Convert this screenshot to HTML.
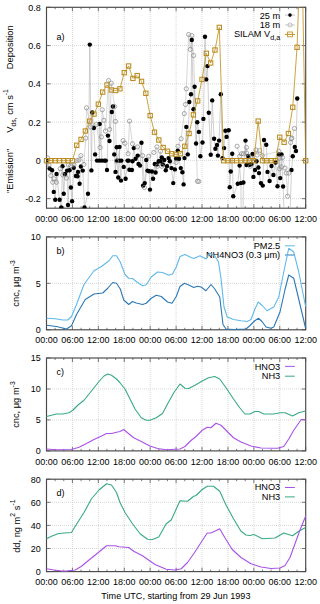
<!DOCTYPE html>
<html><head><meta charset="utf-8"><style>
html,body{margin:0;padding:0;background:#fff;width:320px;height:604px;overflow:hidden}
svg{display:block}
text{font-family:"Liberation Sans", sans-serif;font-size:9px;fill:#000}
</style></head><body>
<svg width="320" height="604" viewBox="0 0 320 604">
<path d="M72.42 7.30V208.20" stroke="#cdcdcd" stroke-width="0.8" stroke-dasharray="1 1" stroke-dashoffset="1.30" fill="none"/>
<path d="M98.34 7.30V208.20" stroke="#cdcdcd" stroke-width="0.8" stroke-dasharray="1 1" stroke-dashoffset="1.30" fill="none"/>
<path d="M124.26 7.30V208.20" stroke="#cdcdcd" stroke-width="0.8" stroke-dasharray="1 1" stroke-dashoffset="1.30" fill="none"/>
<path d="M150.18 7.30V208.20" stroke="#cdcdcd" stroke-width="0.8" stroke-dasharray="1 1" stroke-dashoffset="1.30" fill="none"/>
<path d="M176.10 7.30V208.20" stroke="#cdcdcd" stroke-width="0.8" stroke-dasharray="1 1" stroke-dashoffset="1.30" fill="none"/>
<path d="M202.02 7.30V208.20" stroke="#cdcdcd" stroke-width="0.8" stroke-dasharray="1 1" stroke-dashoffset="1.30" fill="none"/>
<path d="M227.94 7.30V208.20" stroke="#cdcdcd" stroke-width="0.8" stroke-dasharray="1 1" stroke-dashoffset="1.30" fill="none"/>
<path d="M253.86 7.30V208.20" stroke="#cdcdcd" stroke-width="0.8" stroke-dasharray="1 1" stroke-dashoffset="1.30" fill="none"/>
<path d="M279.78 7.30V208.20" stroke="#cdcdcd" stroke-width="0.8" stroke-dasharray="1 1" stroke-dashoffset="1.30" fill="none"/>
<path d="M46.50 198.63H305.70" stroke="#cdcdcd" stroke-width="0.8" stroke-dasharray="1 1" stroke-dashoffset="0.50" fill="none"/>
<path d="M46.50 160.37H305.70" stroke="#cdcdcd" stroke-width="0.8" stroke-dasharray="1 1" stroke-dashoffset="0.50" fill="none"/>
<path d="M46.50 122.10H305.70" stroke="#cdcdcd" stroke-width="0.8" stroke-dasharray="1 1" stroke-dashoffset="0.50" fill="none"/>
<path d="M46.50 83.83H305.70" stroke="#cdcdcd" stroke-width="0.8" stroke-dasharray="1 1" stroke-dashoffset="0.50" fill="none"/>
<path d="M46.50 45.57H305.70" stroke="#cdcdcd" stroke-width="0.8" stroke-dasharray="1 1" stroke-dashoffset="0.50" fill="none"/>
<path d="M46.50 208.20v-4M46.50 7.30v4 M55.14 208.20v-2M55.14 7.30v2 M63.78 208.20v-2M63.78 7.30v2 M72.42 208.20v-4M72.42 7.30v4 M81.06 208.20v-2M81.06 7.30v2 M89.70 208.20v-2M89.70 7.30v2 M98.34 208.20v-4M98.34 7.30v4 M106.98 208.20v-2M106.98 7.30v2 M115.62 208.20v-2M115.62 7.30v2 M124.26 208.20v-4M124.26 7.30v4 M132.90 208.20v-2M132.90 7.30v2 M141.54 208.20v-2M141.54 7.30v2 M150.18 208.20v-4M150.18 7.30v4 M158.82 208.20v-2M158.82 7.30v2 M167.46 208.20v-2M167.46 7.30v2 M176.10 208.20v-4M176.10 7.30v4 M184.74 208.20v-2M184.74 7.30v2 M193.38 208.20v-2M193.38 7.30v2 M202.02 208.20v-4M202.02 7.30v4 M210.66 208.20v-2M210.66 7.30v2 M219.30 208.20v-2M219.30 7.30v2 M227.94 208.20v-4M227.94 7.30v4 M236.58 208.20v-2M236.58 7.30v2 M245.22 208.20v-2M245.22 7.30v2 M253.86 208.20v-4M253.86 7.30v4 M262.50 208.20v-2M262.50 7.30v2 M271.14 208.20v-2M271.14 7.30v2 M279.78 208.20v-4M279.78 7.30v4 M288.42 208.20v-2M288.42 7.30v2 M297.06 208.20v-2M297.06 7.30v2 M305.70 208.20v-4M305.70 7.30v4 M46.50 198.63h4M305.70 198.63h-4 M46.50 160.37h4M305.70 160.37h-4 M46.50 122.10h4M305.70 122.10h-4 M46.50 83.83h4M305.70 83.83h-4 M46.50 45.57h4M305.70 45.57h-4 M46.50 7.30h4M305.70 7.30h-4" stroke="#444" stroke-width="0.7" fill="none"/>
<rect x="46.50" y="7.30" width="259.20" height="200.90" fill="none" stroke="#484848" stroke-width="1.15"/>
<text transform="translate(46.50,221.80) scale(1,1.06)" text-anchor="middle">00:00</text>
<text transform="translate(72.42,221.80) scale(1,1.06)" text-anchor="middle">06:00</text>
<text transform="translate(98.34,221.80) scale(1,1.06)" text-anchor="middle">12:00</text>
<text transform="translate(124.26,221.80) scale(1,1.06)" text-anchor="middle">18:00</text>
<text transform="translate(150.18,221.80) scale(1,1.06)" text-anchor="middle">00:00</text>
<text transform="translate(176.10,221.80) scale(1,1.06)" text-anchor="middle">06:00</text>
<text transform="translate(202.02,221.80) scale(1,1.06)" text-anchor="middle">12:00</text>
<text transform="translate(227.94,221.80) scale(1,1.06)" text-anchor="middle">18:00</text>
<text transform="translate(253.86,221.80) scale(1,1.06)" text-anchor="middle">00:00</text>
<text transform="translate(279.78,221.80) scale(1,1.06)" text-anchor="middle">06:00</text>
<text transform="translate(305.70,221.80) scale(1,1.06)" text-anchor="middle">12:00</text>
<text transform="translate(40.8,202.03) scale(1,1.06)" text-anchor="end">-0.2</text>
<text transform="translate(40.8,163.77) scale(1,1.06)" text-anchor="end">0</text>
<text transform="translate(40.8,125.50) scale(1,1.06)" text-anchor="end">0.2</text>
<text transform="translate(40.8,87.23) scale(1,1.06)" text-anchor="end">0.4</text>
<text transform="translate(40.8,48.97) scale(1,1.06)" text-anchor="end">0.6</text>
<text transform="translate(40.8,10.70) scale(1,1.06)" text-anchor="end">0.8</text>
<path d="M72.42 236.90V329.80" stroke="#cdcdcd" stroke-width="0.8" stroke-dasharray="1 1" stroke-dashoffset="0.90" fill="none"/>
<path d="M98.34 236.90V329.80" stroke="#cdcdcd" stroke-width="0.8" stroke-dasharray="1 1" stroke-dashoffset="0.90" fill="none"/>
<path d="M124.26 236.90V329.80" stroke="#cdcdcd" stroke-width="0.8" stroke-dasharray="1 1" stroke-dashoffset="0.90" fill="none"/>
<path d="M150.18 236.90V329.80" stroke="#cdcdcd" stroke-width="0.8" stroke-dasharray="1 1" stroke-dashoffset="0.90" fill="none"/>
<path d="M176.10 236.90V329.80" stroke="#cdcdcd" stroke-width="0.8" stroke-dasharray="1 1" stroke-dashoffset="0.90" fill="none"/>
<path d="M202.02 236.90V329.80" stroke="#cdcdcd" stroke-width="0.8" stroke-dasharray="1 1" stroke-dashoffset="0.90" fill="none"/>
<path d="M227.94 236.90V329.80" stroke="#cdcdcd" stroke-width="0.8" stroke-dasharray="1 1" stroke-dashoffset="0.90" fill="none"/>
<path d="M253.86 236.90V329.80" stroke="#cdcdcd" stroke-width="0.8" stroke-dasharray="1 1" stroke-dashoffset="0.90" fill="none"/>
<path d="M279.78 236.90V329.80" stroke="#cdcdcd" stroke-width="0.8" stroke-dasharray="1 1" stroke-dashoffset="0.90" fill="none"/>
<path d="M46.50 283.35H305.70" stroke="#cdcdcd" stroke-width="0.8" stroke-dasharray="1 1" stroke-dashoffset="0.50" fill="none"/>
<path d="M46.50 329.80v-4M46.50 236.90v4 M55.14 329.80v-2M55.14 236.90v2 M63.78 329.80v-2M63.78 236.90v2 M72.42 329.80v-4M72.42 236.90v4 M81.06 329.80v-2M81.06 236.90v2 M89.70 329.80v-2M89.70 236.90v2 M98.34 329.80v-4M98.34 236.90v4 M106.98 329.80v-2M106.98 236.90v2 M115.62 329.80v-2M115.62 236.90v2 M124.26 329.80v-4M124.26 236.90v4 M132.90 329.80v-2M132.90 236.90v2 M141.54 329.80v-2M141.54 236.90v2 M150.18 329.80v-4M150.18 236.90v4 M158.82 329.80v-2M158.82 236.90v2 M167.46 329.80v-2M167.46 236.90v2 M176.10 329.80v-4M176.10 236.90v4 M184.74 329.80v-2M184.74 236.90v2 M193.38 329.80v-2M193.38 236.90v2 M202.02 329.80v-4M202.02 236.90v4 M210.66 329.80v-2M210.66 236.90v2 M219.30 329.80v-2M219.30 236.90v2 M227.94 329.80v-4M227.94 236.90v4 M236.58 329.80v-2M236.58 236.90v2 M245.22 329.80v-2M245.22 236.90v2 M253.86 329.80v-4M253.86 236.90v4 M262.50 329.80v-2M262.50 236.90v2 M271.14 329.80v-2M271.14 236.90v2 M279.78 329.80v-4M279.78 236.90v4 M288.42 329.80v-2M288.42 236.90v2 M297.06 329.80v-2M297.06 236.90v2 M305.70 329.80v-4M305.70 236.90v4 M46.50 329.80h4M305.70 329.80h-4 M46.50 283.35h4M305.70 283.35h-4 M46.50 236.90h4M305.70 236.90h-4" stroke="#444" stroke-width="0.7" fill="none"/>
<rect x="46.50" y="236.90" width="259.20" height="92.90" fill="none" stroke="#484848" stroke-width="1.15"/>
<text transform="translate(46.50,343.40) scale(1,1.06)" text-anchor="middle">00:00</text>
<text transform="translate(72.42,343.40) scale(1,1.06)" text-anchor="middle">06:00</text>
<text transform="translate(98.34,343.40) scale(1,1.06)" text-anchor="middle">12:00</text>
<text transform="translate(124.26,343.40) scale(1,1.06)" text-anchor="middle">18:00</text>
<text transform="translate(150.18,343.40) scale(1,1.06)" text-anchor="middle">00:00</text>
<text transform="translate(176.10,343.40) scale(1,1.06)" text-anchor="middle">06:00</text>
<text transform="translate(202.02,343.40) scale(1,1.06)" text-anchor="middle">12:00</text>
<text transform="translate(227.94,343.40) scale(1,1.06)" text-anchor="middle">18:00</text>
<text transform="translate(253.86,343.40) scale(1,1.06)" text-anchor="middle">00:00</text>
<text transform="translate(279.78,343.40) scale(1,1.06)" text-anchor="middle">06:00</text>
<text transform="translate(305.70,343.40) scale(1,1.06)" text-anchor="middle">12:00</text>
<text transform="translate(40.8,333.20) scale(1,1.06)" text-anchor="end">0</text>
<text transform="translate(40.8,286.75) scale(1,1.06)" text-anchor="end">5</text>
<text transform="translate(40.8,240.30) scale(1,1.06)" text-anchor="end">10</text>
<path d="M72.42 358.00V450.90" stroke="#cdcdcd" stroke-width="0.8" stroke-dasharray="1 1" stroke-dashoffset="0.00" fill="none"/>
<path d="M98.34 358.00V450.90" stroke="#cdcdcd" stroke-width="0.8" stroke-dasharray="1 1" stroke-dashoffset="0.00" fill="none"/>
<path d="M124.26 358.00V450.90" stroke="#cdcdcd" stroke-width="0.8" stroke-dasharray="1 1" stroke-dashoffset="0.00" fill="none"/>
<path d="M150.18 358.00V450.90" stroke="#cdcdcd" stroke-width="0.8" stroke-dasharray="1 1" stroke-dashoffset="0.00" fill="none"/>
<path d="M176.10 358.00V450.90" stroke="#cdcdcd" stroke-width="0.8" stroke-dasharray="1 1" stroke-dashoffset="0.00" fill="none"/>
<path d="M202.02 358.00V450.90" stroke="#cdcdcd" stroke-width="0.8" stroke-dasharray="1 1" stroke-dashoffset="0.00" fill="none"/>
<path d="M227.94 358.00V450.90" stroke="#cdcdcd" stroke-width="0.8" stroke-dasharray="1 1" stroke-dashoffset="0.00" fill="none"/>
<path d="M253.86 358.00V450.90" stroke="#cdcdcd" stroke-width="0.8" stroke-dasharray="1 1" stroke-dashoffset="0.00" fill="none"/>
<path d="M279.78 358.00V450.90" stroke="#cdcdcd" stroke-width="0.8" stroke-dasharray="1 1" stroke-dashoffset="0.00" fill="none"/>
<path d="M46.50 419.93H305.70" stroke="#cdcdcd" stroke-width="0.8" stroke-dasharray="1 1" stroke-dashoffset="0.50" fill="none"/>
<path d="M46.50 388.97H305.70" stroke="#cdcdcd" stroke-width="0.8" stroke-dasharray="1 1" stroke-dashoffset="0.50" fill="none"/>
<path d="M46.50 450.90v-4M46.50 358.00v4 M55.14 450.90v-2M55.14 358.00v2 M63.78 450.90v-2M63.78 358.00v2 M72.42 450.90v-4M72.42 358.00v4 M81.06 450.90v-2M81.06 358.00v2 M89.70 450.90v-2M89.70 358.00v2 M98.34 450.90v-4M98.34 358.00v4 M106.98 450.90v-2M106.98 358.00v2 M115.62 450.90v-2M115.62 358.00v2 M124.26 450.90v-4M124.26 358.00v4 M132.90 450.90v-2M132.90 358.00v2 M141.54 450.90v-2M141.54 358.00v2 M150.18 450.90v-4M150.18 358.00v4 M158.82 450.90v-2M158.82 358.00v2 M167.46 450.90v-2M167.46 358.00v2 M176.10 450.90v-4M176.10 358.00v4 M184.74 450.90v-2M184.74 358.00v2 M193.38 450.90v-2M193.38 358.00v2 M202.02 450.90v-4M202.02 358.00v4 M210.66 450.90v-2M210.66 358.00v2 M219.30 450.90v-2M219.30 358.00v2 M227.94 450.90v-4M227.94 358.00v4 M236.58 450.90v-2M236.58 358.00v2 M245.22 450.90v-2M245.22 358.00v2 M253.86 450.90v-4M253.86 358.00v4 M262.50 450.90v-2M262.50 358.00v2 M271.14 450.90v-2M271.14 358.00v2 M279.78 450.90v-4M279.78 358.00v4 M288.42 450.90v-2M288.42 358.00v2 M297.06 450.90v-2M297.06 358.00v2 M305.70 450.90v-4M305.70 358.00v4 M46.50 450.90h4M305.70 450.90h-4 M46.50 419.93h4M305.70 419.93h-4 M46.50 388.97h4M305.70 388.97h-4 M46.50 358.00h4M305.70 358.00h-4" stroke="#444" stroke-width="0.7" fill="none"/>
<rect x="46.50" y="358.00" width="259.20" height="92.90" fill="none" stroke="#484848" stroke-width="1.15"/>
<text transform="translate(46.50,464.50) scale(1,1.06)" text-anchor="middle">00:00</text>
<text transform="translate(72.42,464.50) scale(1,1.06)" text-anchor="middle">06:00</text>
<text transform="translate(98.34,464.50) scale(1,1.06)" text-anchor="middle">12:00</text>
<text transform="translate(124.26,464.50) scale(1,1.06)" text-anchor="middle">18:00</text>
<text transform="translate(150.18,464.50) scale(1,1.06)" text-anchor="middle">00:00</text>
<text transform="translate(176.10,464.50) scale(1,1.06)" text-anchor="middle">06:00</text>
<text transform="translate(202.02,464.50) scale(1,1.06)" text-anchor="middle">12:00</text>
<text transform="translate(227.94,464.50) scale(1,1.06)" text-anchor="middle">18:00</text>
<text transform="translate(253.86,464.50) scale(1,1.06)" text-anchor="middle">00:00</text>
<text transform="translate(279.78,464.50) scale(1,1.06)" text-anchor="middle">06:00</text>
<text transform="translate(305.70,464.50) scale(1,1.06)" text-anchor="middle">12:00</text>
<text transform="translate(40.8,454.30) scale(1,1.06)" text-anchor="end">0</text>
<text transform="translate(40.8,423.33) scale(1,1.06)" text-anchor="end">5</text>
<text transform="translate(40.8,392.37) scale(1,1.06)" text-anchor="end">10</text>
<text transform="translate(40.8,361.40) scale(1,1.06)" text-anchor="end">15</text>
<path d="M72.42 479.20V571.60" stroke="#cdcdcd" stroke-width="0.8" stroke-dasharray="1 1" stroke-dashoffset="1.20" fill="none"/>
<path d="M98.34 479.20V571.60" stroke="#cdcdcd" stroke-width="0.8" stroke-dasharray="1 1" stroke-dashoffset="1.20" fill="none"/>
<path d="M124.26 479.20V571.60" stroke="#cdcdcd" stroke-width="0.8" stroke-dasharray="1 1" stroke-dashoffset="1.20" fill="none"/>
<path d="M150.18 479.20V571.60" stroke="#cdcdcd" stroke-width="0.8" stroke-dasharray="1 1" stroke-dashoffset="1.20" fill="none"/>
<path d="M176.10 479.20V571.60" stroke="#cdcdcd" stroke-width="0.8" stroke-dasharray="1 1" stroke-dashoffset="1.20" fill="none"/>
<path d="M202.02 479.20V571.60" stroke="#cdcdcd" stroke-width="0.8" stroke-dasharray="1 1" stroke-dashoffset="1.20" fill="none"/>
<path d="M227.94 479.20V571.60" stroke="#cdcdcd" stroke-width="0.8" stroke-dasharray="1 1" stroke-dashoffset="1.20" fill="none"/>
<path d="M253.86 479.20V571.60" stroke="#cdcdcd" stroke-width="0.8" stroke-dasharray="1 1" stroke-dashoffset="1.20" fill="none"/>
<path d="M279.78 479.20V571.60" stroke="#cdcdcd" stroke-width="0.8" stroke-dasharray="1 1" stroke-dashoffset="1.20" fill="none"/>
<path d="M46.50 548.50H305.70" stroke="#cdcdcd" stroke-width="0.8" stroke-dasharray="1 1" stroke-dashoffset="0.50" fill="none"/>
<path d="M46.50 525.40H305.70" stroke="#cdcdcd" stroke-width="0.8" stroke-dasharray="1 1" stroke-dashoffset="0.50" fill="none"/>
<path d="M46.50 502.30H305.70" stroke="#cdcdcd" stroke-width="0.8" stroke-dasharray="1 1" stroke-dashoffset="0.50" fill="none"/>
<path d="M46.50 571.60v-4M46.50 479.20v4 M55.14 571.60v-2M55.14 479.20v2 M63.78 571.60v-2M63.78 479.20v2 M72.42 571.60v-4M72.42 479.20v4 M81.06 571.60v-2M81.06 479.20v2 M89.70 571.60v-2M89.70 479.20v2 M98.34 571.60v-4M98.34 479.20v4 M106.98 571.60v-2M106.98 479.20v2 M115.62 571.60v-2M115.62 479.20v2 M124.26 571.60v-4M124.26 479.20v4 M132.90 571.60v-2M132.90 479.20v2 M141.54 571.60v-2M141.54 479.20v2 M150.18 571.60v-4M150.18 479.20v4 M158.82 571.60v-2M158.82 479.20v2 M167.46 571.60v-2M167.46 479.20v2 M176.10 571.60v-4M176.10 479.20v4 M184.74 571.60v-2M184.74 479.20v2 M193.38 571.60v-2M193.38 479.20v2 M202.02 571.60v-4M202.02 479.20v4 M210.66 571.60v-2M210.66 479.20v2 M219.30 571.60v-2M219.30 479.20v2 M227.94 571.60v-4M227.94 479.20v4 M236.58 571.60v-2M236.58 479.20v2 M245.22 571.60v-2M245.22 479.20v2 M253.86 571.60v-4M253.86 479.20v4 M262.50 571.60v-2M262.50 479.20v2 M271.14 571.60v-2M271.14 479.20v2 M279.78 571.60v-4M279.78 479.20v4 M288.42 571.60v-2M288.42 479.20v2 M297.06 571.60v-2M297.06 479.20v2 M305.70 571.60v-4M305.70 479.20v4 M46.50 571.60h4M305.70 571.60h-4 M46.50 548.50h4M305.70 548.50h-4 M46.50 525.40h4M305.70 525.40h-4 M46.50 502.30h4M305.70 502.30h-4 M46.50 479.20h4M305.70 479.20h-4" stroke="#444" stroke-width="0.7" fill="none"/>
<rect x="46.50" y="479.20" width="259.20" height="92.40" fill="none" stroke="#484848" stroke-width="1.15"/>
<text transform="translate(46.50,585.20) scale(1,1.06)" text-anchor="middle">00:00</text>
<text transform="translate(72.42,585.20) scale(1,1.06)" text-anchor="middle">06:00</text>
<text transform="translate(98.34,585.20) scale(1,1.06)" text-anchor="middle">12:00</text>
<text transform="translate(124.26,585.20) scale(1,1.06)" text-anchor="middle">18:00</text>
<text transform="translate(150.18,585.20) scale(1,1.06)" text-anchor="middle">00:00</text>
<text transform="translate(176.10,585.20) scale(1,1.06)" text-anchor="middle">06:00</text>
<text transform="translate(202.02,585.20) scale(1,1.06)" text-anchor="middle">12:00</text>
<text transform="translate(227.94,585.20) scale(1,1.06)" text-anchor="middle">18:00</text>
<text transform="translate(253.86,585.20) scale(1,1.06)" text-anchor="middle">00:00</text>
<text transform="translate(279.78,585.20) scale(1,1.06)" text-anchor="middle">06:00</text>
<text transform="translate(305.70,585.20) scale(1,1.06)" text-anchor="middle">12:00</text>
<text transform="translate(40.8,575.00) scale(1,1.06)" text-anchor="end">0</text>
<text transform="translate(40.8,551.90) scale(1,1.06)" text-anchor="end">20</text>
<text transform="translate(40.8,528.80) scale(1,1.06)" text-anchor="end">40</text>
<text transform="translate(40.8,505.70) scale(1,1.06)" text-anchor="end">60</text>
<text transform="translate(40.8,482.60) scale(1,1.06)" text-anchor="end">80</text>
<text transform="translate(56.6,40.2) scale(1,1.06)">a)</text>
<text transform="translate(56.6,254.0) scale(1,1.06)">b)</text>
<text transform="translate(56.6,375.1) scale(1,1.06)">c)</text>
<text transform="translate(56.6,496.3) scale(1,1.06)">d)</text>
<text transform="translate(13.0,47.25) rotate(-90)" text-anchor="middle" style="font-size:9.3px">Deposition</text>
<text transform="translate(13.3,110.9) rotate(-90)" text-anchor="middle" style="font-size:9.3px">V<tspan dy="2.3" font-size="6.8">ds,</tspan><tspan dy="-2.3"> cm s</tspan><tspan dy="-4.9" font-size="6.8">-1</tspan></text>
<text transform="translate(13.3,170.9) rotate(-90)" text-anchor="middle" style="font-size:9.3px">"Emission"</text>
<text transform="translate(19.4,283.4) rotate(-90)" text-anchor="middle" style="font-size:9.3px">cnc, μg m<tspan dy="-4.6" font-size="6.8">-3</tspan></text>
<text transform="translate(19.4,404.6) rotate(-90)" text-anchor="middle" style="font-size:9.3px">cnc, μg m<tspan dy="-4.6" font-size="6.8">-3</tspan></text>
<text transform="translate(19.5,526.2) rotate(-90)" text-anchor="middle" style="font-size:9.3px">dd, ng m<tspan dy="-4.6" font-size="6.8">2</tspan><tspan dy="4.6"> s</tspan><tspan dy="-4.6" font-size="6.8">-1</tspan></text>
<text transform="translate(175.9,598.8) scale(1,1.06)" text-anchor="middle" style="font-size:9.1px">Time UTC, starting from 29 Jun 1993</text>
<text x="280.2" y="249.0" text-anchor="end" style="font-size:9.2px">PM2.5</text>
<text x="280.2" y="258.2" text-anchor="end" style="font-size:9.2px">NH4NO3 (0.3 μm)</text>
<path d="M285 245.80H294.8" stroke="#5fb9ea" stroke-width="1"/>
<path d="M285 255.00H294.8" stroke="#2a78b6" stroke-width="1"/>
<text x="280.2" y="369.9" text-anchor="end" style="font-size:9.2px">HNO3</text>
<text x="280.2" y="379.1" text-anchor="end" style="font-size:9.2px">NH3</text>
<path d="M285 366.40H294.8" stroke="#aa52e8" stroke-width="1"/>
<path d="M285 376.20H294.8" stroke="#38a986" stroke-width="1"/>
<text x="280.2" y="490.3" text-anchor="end" style="font-size:9.2px">HNO3</text>
<text x="280.2" y="499.5" text-anchor="end" style="font-size:9.2px">NH3</text>
<path d="M285 487.50H294.8" stroke="#aa52e8" stroke-width="1"/>
<path d="M285 496.90H294.8" stroke="#38a986" stroke-width="1"/>
<polyline points="46.50,318.25 55.25,318.75 62.75,320.00 67.75,320.00 71.50,316.50 76.50,304.50 84.00,284.50 94.00,270.75 101.50,266.50 109.00,260.75 112.75,255.75 116.50,255.75 120.25,262.00 125.00,274.50 128.75,278.25 132.50,278.50 137.50,282.50 142.50,285.70 146.25,284.80 151.25,277.00 157.50,272.00 162.50,272.50 168.75,275.25 172.50,274.00 176.25,267.00 180.00,256.50 185.00,254.50 190.00,257.00 193.75,258.50 200.00,255.75 206.00,259.00 209.75,253.25 214.75,255.75 218.50,262.00 221.00,278.25 224.00,307.00 227.25,317.00 233.50,319.50 241.00,320.75 247.25,321.50 251.00,319.50 254.75,309.50 258.25,302.00 262.50,305.75 267.00,310.75 273.75,307.00 278.75,297.00 283.75,272.00 288.75,248.25 293.75,252.00 298.75,272.00 305.60,306.50" fill="none" stroke="#5fb9ea" stroke-width="1.1" stroke-linejoin="round"/>
<polyline points="46.50,325.25 56.50,326.50 66.50,329.00 71.50,325.75 76.50,314.50 85.25,299.50 94.00,294.00 102.75,293.00 107.75,288.25 112.75,282.50 116.50,283.25 120.25,289.00 123.75,300.00 128.75,304.50 132.50,301.50 136.25,303.00 142.50,304.50 146.25,303.25 151.25,298.25 156.25,295.25 161.25,296.50 167.50,302.00 172.00,303.25 176.25,296.50 180.00,286.50 184.50,283.25 188.75,285.00 193.75,287.50 197.50,286.25 201.00,287.00 206.00,290.75 211.00,284.50 214.75,289.00 219.75,297.00 223.00,324.50 226.00,329.00 233.50,329.50 246.00,329.00 249.75,325.75 254.75,320.75 258.50,318.25 262.00,321.50 266.00,327.00 271.00,328.25 273.75,327.00 280.00,312.00 285.00,289.50 288.75,275.00 293.75,278.25 300.00,304.50 305.60,328.25" fill="none" stroke="#2a78b6" stroke-width="1.1" stroke-linejoin="round"/>
<polyline points="46.50,416.50 51.50,415.25 56.50,414.00 62.75,414.00 69.00,412.75 72.75,410.25 77.75,405.25 84.00,400.25 89.00,394.00 94.00,387.75 99.00,381.50 104.00,376.00 107.75,374.00 111.50,375.25 116.50,379.00 120.00,382.75 125.00,389.00 130.00,399.00 135.00,409.00 141.25,417.75 146.25,420.25 150.00,420.25 156.25,417.75 162.50,413.50 167.50,404.00 173.75,392.75 180.00,384.00 185.00,388.25 188.75,388.50 195.00,385.25 202.25,381.00 208.50,377.75 214.75,376.50 219.75,379.00 226.00,387.75 233.50,399.00 239.75,407.75 245.00,414.00 250.00,414.00 255.00,411.50 258.75,411.50 263.75,414.00 273.75,414.00 280.00,412.75 285.00,412.75 292.50,416.00 298.75,412.75 305.60,411.00" fill="none" stroke="#38a986" stroke-width="1.1" stroke-linejoin="round"/>
<polyline points="46.50,449.00 56.50,449.75 71.50,449.50 79.00,447.25 86.50,443.50 94.00,439.50 101.50,436.00 106.50,433.50 111.50,433.50 116.50,432.25 120.00,431.50 123.75,429.50 127.50,432.75 133.75,437.75 141.25,441.50 150.00,446.00 157.50,448.50 166.25,449.75 180.00,449.00 185.00,446.50 191.25,440.25 196.00,436.50 202.25,430.25 207.25,427.25 211.00,427.75 216.00,423.25 221.00,425.25 227.25,431.50 233.50,437.75 241.00,442.00 251.00,446.00 261.00,448.00 277.50,448.25 283.75,446.50 288.75,439.00 293.75,430.25 301.25,419.50 305.60,419.50" fill="none" stroke="#aa52e8" stroke-width="1.1" stroke-linejoin="round"/>
<polyline points="46.50,538.75 51.50,536.25 57.75,533.75 64.00,533.00 71.50,532.50 75.25,526.25 84.00,512.50 91.50,498.75 99.00,490.00 106.50,483.75 111.50,485.00 116.50,492.50 120.00,502.50 125.00,512.50 132.50,523.75 140.00,533.75 147.50,539.25 152.50,539.50 158.75,537.00 166.25,523.75 171.25,520.00 180.00,500.75 187.50,501.25 193.75,496.25 196.00,495.50 202.25,489.50 207.25,486.25 213.50,486.25 219.75,491.25 226.00,505.00 233.50,518.75 241.00,531.25 246.00,535.00 249.75,535.50 254.00,534.50 262.25,538.75 275.00,538.00 283.75,533.00 292.50,535.75 298.75,531.25 305.60,527.50" fill="none" stroke="#38a986" stroke-width="1.1" stroke-linejoin="round"/>
<polyline points="46.50,568.75 54.00,570.00 64.00,571.25 75.25,570.00 81.50,566.25 89.00,560.00 97.75,553.00 106.50,545.75 115.25,545.75 119.00,546.75 128.75,547.50 133.75,551.25 142.50,555.75 155.00,564.50 166.25,569.25 175.00,570.00 181.25,568.75 187.50,562.50 193.75,553.75 201.00,542.50 207.25,533.00 211.00,533.00 219.75,528.75 224.75,537.50 232.25,549.50 241.00,557.50 251.00,563.75 261.00,567.00 271.00,568.50 280.00,568.00 285.00,565.50 290.00,557.50 295.00,543.75 300.00,530.00 305.60,516.25" fill="none" stroke="#aa52e8" stroke-width="1.1" stroke-linejoin="round"/>
<defs><clipPath id="ca"><rect x="46.5" y="7.3" width="259.2" height="200.9"/></clipPath></defs>
<g clip-path="url(#ca)">
<polyline points="46.50,160.60 49.60,168.50 52.10,170.25 53.75,191.90 55.25,199.75 56.50,174.00 59.60,199.75 61.25,207.50 62.50,166.25 63.75,193.75 65.00,174.00 67.10,170.60 68.00,205.00 69.60,170.25 70.90,187.50 72.10,201.25 73.75,167.75 75.90,176.00 77.50,176.25 78.00,171.90 79.60,183.75 80.90,166.50 82.75,170.60 84.50,207.50 88.00,193.75 89.80,44.60 91.40,170.40 92.30,112.50 93.90,128.00 95.10,154.40 97.00,160.60 99.50,160.60 99.70,123.90 102.00,160.60 104.50,160.60 105.75,160.60 107.00,170.00 107.90,135.60 109.50,141.00 111.80,112.00 113.00,106.50 114.25,154.40 115.50,171.90 116.75,147.25 117.00,160.60 118.25,177.50 119.50,146.90 119.50,160.60 121.00,180.60 121.40,160.60 123.75,166.90 125.60,178.75 127.50,160.60 128.75,160.60 129.40,169.75 131.90,170.00 132.50,161.25 133.75,148.10 135.60,158.75 137.75,155.60 138.50,164.00 140.00,165.60 141.50,142.75 143.10,185.60 144.75,183.10 146.25,160.00 147.50,170.60 149.00,171.25 150.00,189.60 151.90,171.50 153.10,178.75 154.75,164.00 155.60,172.50 156.90,164.40 158.75,161.25 160.25,161.25 161.75,157.50 162.75,164.40 164.25,160.00 165.75,170.25 167.00,166.25 168.60,158.10 169.90,161.25 171.50,168.10 173.25,183.10 174.90,169.40 176.10,158.75 177.75,150.60 179.00,158.75 180.75,168.10 182.40,172.25 183.60,184.40 184.50,158.10 186.30,126.90 187.75,154.40 189.30,102.00 191.00,94.30 191.80,40.00 193.50,109.20 194.60,86.70 196.10,143.50 197.30,122.30 198.90,131.90 200.40,156.25 202.50,142.50 203.40,118.90 205.00,36.70 206.20,79.40 207.50,66.10 208.80,112.80 210.75,154.75 212.20,100.40 214.10,138.75 215.40,148.75 217.00,145.00 217.90,155.60 219.10,140.60 220.80,94.30 222.50,158.10 224.10,148.10 225.40,130.70 226.60,136.90 228.70,130.20 229.75,187.25 230.75,171.50 232.25,153.75 233.25,196.25 237.75,183.75 239.60,165.60 240.90,183.10 242.10,300.00 243.40,182.50 245.50,140.60 246.50,165.00 248.00,156.00 249.60,164.75 251.50,164.00 252.50,154.00 253.40,176.90 255.00,170.00 256.50,161.25 258.40,167.50 259.00,173.10 260.90,183.10 262.75,185.60 264.00,140.00 266.25,144.75 267.50,171.90 269.60,181.00 271.50,166.00 273.40,175.00 275.60,162.50 277.50,186.25 279.00,154.40 280.25,178.10 281.50,154.40 283.10,186.50 287.00,300.00 291.50,170.00 292.75,156.25 294.75,146.90 296.00,151.00 297.25,98.50" fill="none" stroke="#ababab" stroke-width="0.55" stroke-linejoin="round"/>
<polyline points="47.75,158.10 49.00,165.00 50.90,175.60 52.75,182.25 54.00,178.75 56.50,182.25 60.25,168.75 62.75,175.00 66.50,178.10 68.40,165.00 70.90,165.60 74.00,165.00 77.10,160.60 79.00,160.00 80.90,155.60 83.90,164.40 85.75,138.10 86.50,107.80 90.60,126.90 96.40,124.40 100.10,147.50 101.40,136.90 102.20,109.80 103.90,120.30 105.50,131.00 108.50,80.50 109.70,129.40 111.30,83.30 114.60,106.50 115.50,121.40 116.50,161.00 123.10,140.60 124.90,143.30 128.10,153.75 129.50,121.10 132.50,143.75 137.50,146.90 142.50,155.60 144.40,187.50 148.75,156.25 153.75,152.50 156.90,146.90 157.50,166.25 160.50,151.25 161.75,166.25 176.10,162.50 178.00,146.25 181.10,138.75 184.30,113.60 185.50,104.50 186.30,88.80 188.60,34.50 190.30,49.40 191.90,35.60 193.60,55.50 197.40,181.25 198.75,181.50" fill="none" stroke="#b8b8b8" stroke-width="0.55" stroke-linejoin="round"/>
<polyline points="237.10,146.25 239.75,156.25 241.50,153.75 243.50,153.75 246.50,147.50 246.60,153.10 248.50,156.90 250.25,166.25 252.00,158.00 255.90,150.00 257.10,155.00 259.60,150.60 262.25,155.60 278.75,151.25 279.40,158.10 279.40,168.75 281.25,166.90 282.50,157.50 285.00,168.10 286.25,173.10 287.50,196.25 288.75,173.10 290.60,142.50 291.25,138.75 291.90,138.10 294.40,128.50" fill="none" stroke="#b8b8b8" stroke-width="0.55" stroke-linejoin="round"/>
<g fill="#000"><circle cx="46.50" cy="160.60" r="2.2"/><circle cx="49.60" cy="168.50" r="2.2"/><circle cx="52.10" cy="170.25" r="2.2"/><circle cx="53.75" cy="191.90" r="2.2"/><circle cx="55.25" cy="199.75" r="2.2"/><circle cx="56.50" cy="174.00" r="2.2"/><circle cx="59.60" cy="199.75" r="2.2"/><circle cx="61.25" cy="207.50" r="2.2"/><circle cx="62.50" cy="166.25" r="2.2"/><circle cx="63.75" cy="193.75" r="2.2"/><circle cx="65.00" cy="174.00" r="2.2"/><circle cx="67.10" cy="170.60" r="2.2"/><circle cx="68.00" cy="205.00" r="2.2"/><circle cx="69.60" cy="170.25" r="2.2"/><circle cx="70.90" cy="187.50" r="2.2"/><circle cx="72.10" cy="201.25" r="2.2"/><circle cx="73.75" cy="167.75" r="2.2"/><circle cx="75.90" cy="176.00" r="2.2"/><circle cx="77.50" cy="176.25" r="2.2"/><circle cx="78.00" cy="171.90" r="2.2"/><circle cx="79.60" cy="183.75" r="2.2"/><circle cx="80.90" cy="166.50" r="2.2"/><circle cx="82.75" cy="170.60" r="2.2"/><circle cx="84.50" cy="207.50" r="2.2"/><circle cx="88.00" cy="193.75" r="2.2"/><circle cx="89.80" cy="44.60" r="2.2"/><circle cx="91.40" cy="170.40" r="2.2"/><circle cx="92.30" cy="112.50" r="2.2"/><circle cx="93.90" cy="128.00" r="2.2"/><circle cx="95.10" cy="154.40" r="2.2"/><circle cx="97.00" cy="160.60" r="2.2"/><circle cx="99.50" cy="160.60" r="2.2"/><circle cx="99.70" cy="123.90" r="2.2"/><circle cx="102.00" cy="160.60" r="2.2"/><circle cx="104.50" cy="160.60" r="2.2"/><circle cx="105.75" cy="160.60" r="2.2"/><circle cx="107.00" cy="170.00" r="2.2"/><circle cx="107.90" cy="135.60" r="2.2"/><circle cx="109.50" cy="141.00" r="2.2"/><circle cx="111.80" cy="112.00" r="2.2"/><circle cx="113.00" cy="106.50" r="2.2"/><circle cx="114.25" cy="154.40" r="2.2"/><circle cx="115.50" cy="171.90" r="2.2"/><circle cx="116.75" cy="147.25" r="2.2"/><circle cx="117.00" cy="160.60" r="2.2"/><circle cx="118.25" cy="177.50" r="2.2"/><circle cx="119.50" cy="146.90" r="2.2"/><circle cx="119.50" cy="160.60" r="2.2"/><circle cx="121.00" cy="180.60" r="2.2"/><circle cx="121.40" cy="160.60" r="2.2"/><circle cx="123.75" cy="166.90" r="2.2"/><circle cx="125.60" cy="178.75" r="2.2"/><circle cx="127.50" cy="160.60" r="2.2"/><circle cx="128.75" cy="160.60" r="2.2"/><circle cx="129.40" cy="169.75" r="2.2"/><circle cx="131.90" cy="170.00" r="2.2"/><circle cx="132.50" cy="161.25" r="2.2"/><circle cx="133.75" cy="148.10" r="2.2"/><circle cx="135.60" cy="158.75" r="2.2"/><circle cx="137.75" cy="155.60" r="2.2"/><circle cx="138.50" cy="164.00" r="2.2"/><circle cx="140.00" cy="165.60" r="2.2"/><circle cx="141.50" cy="142.75" r="2.2"/><circle cx="143.10" cy="185.60" r="2.2"/><circle cx="144.75" cy="183.10" r="2.2"/><circle cx="146.25" cy="160.00" r="2.2"/><circle cx="147.50" cy="170.60" r="2.2"/><circle cx="149.00" cy="171.25" r="2.2"/><circle cx="150.00" cy="189.60" r="2.2"/><circle cx="151.90" cy="171.50" r="2.2"/><circle cx="153.10" cy="178.75" r="2.2"/><circle cx="154.75" cy="164.00" r="2.2"/><circle cx="155.60" cy="172.50" r="2.2"/><circle cx="156.90" cy="164.40" r="2.2"/><circle cx="158.75" cy="161.25" r="2.2"/><circle cx="160.25" cy="161.25" r="2.2"/><circle cx="161.75" cy="157.50" r="2.2"/><circle cx="162.75" cy="164.40" r="2.2"/><circle cx="164.25" cy="160.00" r="2.2"/><circle cx="165.75" cy="170.25" r="2.2"/><circle cx="167.00" cy="166.25" r="2.2"/><circle cx="168.60" cy="158.10" r="2.2"/><circle cx="169.90" cy="161.25" r="2.2"/><circle cx="171.50" cy="168.10" r="2.2"/><circle cx="173.25" cy="183.10" r="2.2"/><circle cx="174.90" cy="169.40" r="2.2"/><circle cx="176.10" cy="158.75" r="2.2"/><circle cx="177.75" cy="150.60" r="2.2"/><circle cx="179.00" cy="158.75" r="2.2"/><circle cx="180.75" cy="168.10" r="2.2"/><circle cx="182.40" cy="172.25" r="2.2"/><circle cx="183.60" cy="184.40" r="2.2"/><circle cx="184.50" cy="158.10" r="2.2"/><circle cx="186.30" cy="126.90" r="2.2"/><circle cx="187.75" cy="154.40" r="2.2"/><circle cx="189.30" cy="102.00" r="2.2"/><circle cx="191.00" cy="94.30" r="2.2"/><circle cx="191.80" cy="40.00" r="2.2"/><circle cx="193.50" cy="109.20" r="2.2"/><circle cx="194.60" cy="86.70" r="2.2"/><circle cx="196.10" cy="143.50" r="2.2"/><circle cx="197.30" cy="122.30" r="2.2"/><circle cx="198.90" cy="131.90" r="2.2"/><circle cx="200.40" cy="156.25" r="2.2"/><circle cx="202.50" cy="142.50" r="2.2"/><circle cx="203.40" cy="118.90" r="2.2"/><circle cx="205.00" cy="36.70" r="2.2"/><circle cx="206.20" cy="79.40" r="2.2"/><circle cx="207.50" cy="66.10" r="2.2"/><circle cx="208.80" cy="112.80" r="2.2"/><circle cx="210.75" cy="154.75" r="2.2"/><circle cx="212.20" cy="100.40" r="2.2"/><circle cx="214.10" cy="138.75" r="2.2"/><circle cx="215.40" cy="148.75" r="2.2"/><circle cx="217.00" cy="145.00" r="2.2"/><circle cx="217.90" cy="155.60" r="2.2"/><circle cx="219.10" cy="140.60" r="2.2"/><circle cx="220.80" cy="94.30" r="2.2"/><circle cx="222.50" cy="158.10" r="2.2"/><circle cx="224.10" cy="148.10" r="2.2"/><circle cx="225.40" cy="130.70" r="2.2"/><circle cx="226.60" cy="136.90" r="2.2"/><circle cx="228.70" cy="130.20" r="2.2"/><circle cx="229.75" cy="187.25" r="2.2"/><circle cx="230.75" cy="171.50" r="2.2"/><circle cx="232.25" cy="153.75" r="2.2"/><circle cx="233.25" cy="196.25" r="2.2"/><circle cx="237.75" cy="183.75" r="2.2"/><circle cx="239.60" cy="165.60" r="2.2"/><circle cx="240.90" cy="183.10" r="2.2"/><circle cx="242.10" cy="300.00" r="2.2"/><circle cx="243.40" cy="182.50" r="2.2"/><circle cx="245.50" cy="140.60" r="2.2"/><circle cx="246.50" cy="165.00" r="2.2"/><circle cx="248.00" cy="156.00" r="2.2"/><circle cx="249.60" cy="164.75" r="2.2"/><circle cx="251.50" cy="164.00" r="2.2"/><circle cx="252.50" cy="154.00" r="2.2"/><circle cx="253.40" cy="176.90" r="2.2"/><circle cx="255.00" cy="170.00" r="2.2"/><circle cx="256.50" cy="161.25" r="2.2"/><circle cx="258.40" cy="167.50" r="2.2"/><circle cx="259.00" cy="173.10" r="2.2"/><circle cx="260.90" cy="183.10" r="2.2"/><circle cx="262.75" cy="185.60" r="2.2"/><circle cx="264.00" cy="140.00" r="2.2"/><circle cx="266.25" cy="144.75" r="2.2"/><circle cx="267.50" cy="171.90" r="2.2"/><circle cx="269.60" cy="181.00" r="2.2"/><circle cx="271.50" cy="166.00" r="2.2"/><circle cx="273.40" cy="175.00" r="2.2"/><circle cx="275.60" cy="162.50" r="2.2"/><circle cx="277.50" cy="186.25" r="2.2"/><circle cx="279.00" cy="154.40" r="2.2"/><circle cx="280.25" cy="178.10" r="2.2"/><circle cx="281.50" cy="154.40" r="2.2"/><circle cx="283.10" cy="186.50" r="2.2"/><circle cx="287.00" cy="300.00" r="2.2"/><circle cx="291.50" cy="170.00" r="2.2"/><circle cx="292.75" cy="156.25" r="2.2"/><circle cx="294.75" cy="146.90" r="2.2"/><circle cx="296.00" cy="151.00" r="2.2"/><circle cx="297.25" cy="98.50" r="2.2"/></g>
<g fill="none" stroke="#858585" stroke-width="0.7"><circle cx="47.75" cy="158.10" r="2.1"/><circle cx="49.00" cy="165.00" r="2.1"/><circle cx="50.90" cy="175.60" r="2.1"/><circle cx="52.75" cy="182.25" r="2.1"/><circle cx="54.00" cy="178.75" r="2.1"/><circle cx="56.50" cy="182.25" r="2.1"/><circle cx="60.25" cy="168.75" r="2.1"/><circle cx="62.75" cy="175.00" r="2.1"/><circle cx="66.50" cy="178.10" r="2.1"/><circle cx="68.40" cy="165.00" r="2.1"/><circle cx="70.90" cy="165.60" r="2.1"/><circle cx="74.00" cy="165.00" r="2.1"/><circle cx="77.10" cy="160.60" r="2.1"/><circle cx="79.00" cy="160.00" r="2.1"/><circle cx="80.90" cy="155.60" r="2.1"/><circle cx="83.90" cy="164.40" r="2.1"/><circle cx="85.75" cy="138.10" r="2.1"/><circle cx="86.50" cy="107.80" r="2.1"/><circle cx="90.60" cy="126.90" r="2.1"/><circle cx="96.40" cy="124.40" r="2.1"/><circle cx="100.10" cy="147.50" r="2.1"/><circle cx="101.40" cy="136.90" r="2.1"/><circle cx="102.20" cy="109.80" r="2.1"/><circle cx="103.90" cy="120.30" r="2.1"/><circle cx="105.50" cy="131.00" r="2.1"/><circle cx="108.50" cy="80.50" r="2.1"/><circle cx="109.70" cy="129.40" r="2.1"/><circle cx="111.30" cy="83.30" r="2.1"/><circle cx="114.60" cy="106.50" r="2.1"/><circle cx="115.50" cy="121.40" r="2.1"/><circle cx="116.50" cy="161.00" r="2.1"/><circle cx="123.10" cy="140.60" r="2.1"/><circle cx="124.90" cy="143.30" r="2.1"/><circle cx="128.10" cy="153.75" r="2.1"/><circle cx="129.50" cy="121.10" r="2.1"/><circle cx="132.50" cy="143.75" r="2.1"/><circle cx="137.50" cy="146.90" r="2.1"/><circle cx="142.50" cy="155.60" r="2.1"/><circle cx="144.40" cy="187.50" r="2.1"/><circle cx="148.75" cy="156.25" r="2.1"/><circle cx="153.75" cy="152.50" r="2.1"/><circle cx="156.90" cy="146.90" r="2.1"/><circle cx="157.50" cy="166.25" r="2.1"/><circle cx="160.50" cy="151.25" r="2.1"/><circle cx="161.75" cy="166.25" r="2.1"/><circle cx="176.10" cy="162.50" r="2.1"/><circle cx="178.00" cy="146.25" r="2.1"/><circle cx="181.10" cy="138.75" r="2.1"/><circle cx="184.30" cy="113.60" r="2.1"/><circle cx="185.50" cy="104.50" r="2.1"/><circle cx="186.30" cy="88.80" r="2.1"/><circle cx="188.60" cy="34.50" r="2.1"/><circle cx="190.30" cy="49.40" r="2.1"/><circle cx="191.90" cy="35.60" r="2.1"/><circle cx="193.60" cy="55.50" r="2.1"/><circle cx="197.40" cy="181.25" r="2.1"/><circle cx="198.75" cy="181.50" r="2.1"/><circle cx="237.10" cy="146.25" r="2.1"/><circle cx="239.75" cy="156.25" r="2.1"/><circle cx="241.50" cy="153.75" r="2.1"/><circle cx="243.50" cy="153.75" r="2.1"/><circle cx="246.50" cy="147.50" r="2.1"/><circle cx="246.60" cy="153.10" r="2.1"/><circle cx="248.50" cy="156.90" r="2.1"/><circle cx="250.25" cy="166.25" r="2.1"/><circle cx="252.00" cy="158.00" r="2.1"/><circle cx="255.90" cy="150.00" r="2.1"/><circle cx="257.10" cy="155.00" r="2.1"/><circle cx="259.60" cy="150.60" r="2.1"/><circle cx="262.25" cy="155.60" r="2.1"/><circle cx="278.75" cy="151.25" r="2.1"/><circle cx="279.40" cy="158.10" r="2.1"/><circle cx="279.40" cy="168.75" r="2.1"/><circle cx="281.25" cy="166.90" r="2.1"/><circle cx="282.50" cy="157.50" r="2.1"/><circle cx="285.00" cy="168.10" r="2.1"/><circle cx="286.25" cy="173.10" r="2.1"/><circle cx="287.50" cy="196.25" r="2.1"/><circle cx="288.75" cy="173.10" r="2.1"/><circle cx="290.60" cy="142.50" r="2.1"/><circle cx="291.25" cy="138.75" r="2.1"/><circle cx="291.90" cy="138.10" r="2.1"/><circle cx="294.40" cy="128.50" r="2.1"/></g>
<polyline points="46.50,160.70 50.82,160.70 55.14,160.70 59.46,160.70 63.78,160.70 68.10,160.70 72.42,160.70 76.74,145.25 81.06,139.40 85.38,131.00 89.70,121.10 94.02,114.10 98.34,104.20 102.66,92.10 106.98,85.00 111.30,90.00 115.62,90.50 119.94,88.80 124.26,72.70 128.58,66.00 132.90,78.40 137.22,75.60 141.54,81.40 145.86,93.30 150.18,115.60 154.50,132.20 158.82,140.00 163.14,147.50 167.46,151.25 171.78,153.75 176.10,154.40 180.42,153.75 184.74,146.25 189.06,133.50 193.38,114.80 197.70,100.90 202.02,79.40 206.34,53.30 210.66,63.00 214.98,50.00 219.30,27.40 223.62,160.70 227.94,160.70 232.26,160.70 236.58,160.70 240.90,160.70 245.22,160.70 249.54,160.70 253.86,160.70 258.18,121.10 262.50,160.70 266.82,160.70 271.14,160.70 275.46,160.70 279.78,137.25 284.10,142.25 288.42,133.50 292.74,107.25 297.06,47.30 301.38,-75.00 305.70,160.70" fill="none" stroke="#c39222" stroke-width="0.85" stroke-linejoin="round"/>
</g>
<g fill="none" stroke="#b98b1f" stroke-width="1.05"><rect x="44.35" y="158.55" width="4.3" height="4.3"/><rect x="48.67" y="158.55" width="4.3" height="4.3"/><rect x="52.99" y="158.55" width="4.3" height="4.3"/><rect x="57.31" y="158.55" width="4.3" height="4.3"/><rect x="61.63" y="158.55" width="4.3" height="4.3"/><rect x="65.95" y="158.55" width="4.3" height="4.3"/><rect x="70.27" y="158.55" width="4.3" height="4.3"/><rect x="74.59" y="143.10" width="4.3" height="4.3"/><rect x="78.91" y="137.25" width="4.3" height="4.3"/><rect x="83.23" y="128.85" width="4.3" height="4.3"/><rect x="87.55" y="118.95" width="4.3" height="4.3"/><rect x="91.87" y="111.95" width="4.3" height="4.3"/><rect x="96.19" y="102.05" width="4.3" height="4.3"/><rect x="100.51" y="89.95" width="4.3" height="4.3"/><rect x="104.83" y="82.85" width="4.3" height="4.3"/><rect x="109.15" y="87.85" width="4.3" height="4.3"/><rect x="113.47" y="88.35" width="4.3" height="4.3"/><rect x="117.79" y="86.65" width="4.3" height="4.3"/><rect x="122.11" y="70.55" width="4.3" height="4.3"/><rect x="126.43" y="63.85" width="4.3" height="4.3"/><rect x="130.75" y="76.25" width="4.3" height="4.3"/><rect x="135.07" y="73.45" width="4.3" height="4.3"/><rect x="139.39" y="79.25" width="4.3" height="4.3"/><rect x="143.71" y="91.15" width="4.3" height="4.3"/><rect x="148.03" y="113.45" width="4.3" height="4.3"/><rect x="152.35" y="130.05" width="4.3" height="4.3"/><rect x="156.67" y="137.85" width="4.3" height="4.3"/><rect x="160.99" y="145.35" width="4.3" height="4.3"/><rect x="165.31" y="149.10" width="4.3" height="4.3"/><rect x="169.63" y="151.60" width="4.3" height="4.3"/><rect x="173.95" y="152.25" width="4.3" height="4.3"/><rect x="178.27" y="151.60" width="4.3" height="4.3"/><rect x="182.59" y="144.10" width="4.3" height="4.3"/><rect x="186.91" y="131.35" width="4.3" height="4.3"/><rect x="191.23" y="112.65" width="4.3" height="4.3"/><rect x="195.55" y="98.75" width="4.3" height="4.3"/><rect x="199.87" y="77.25" width="4.3" height="4.3"/><rect x="204.19" y="51.15" width="4.3" height="4.3"/><rect x="208.51" y="60.85" width="4.3" height="4.3"/><rect x="212.83" y="47.85" width="4.3" height="4.3"/><rect x="217.15" y="25.25" width="4.3" height="4.3"/><rect x="221.47" y="158.55" width="4.3" height="4.3"/><rect x="225.79" y="158.55" width="4.3" height="4.3"/><rect x="230.11" y="158.55" width="4.3" height="4.3"/><rect x="234.43" y="158.55" width="4.3" height="4.3"/><rect x="238.75" y="158.55" width="4.3" height="4.3"/><rect x="243.07" y="158.55" width="4.3" height="4.3"/><rect x="247.39" y="158.55" width="4.3" height="4.3"/><rect x="251.71" y="158.55" width="4.3" height="4.3"/><rect x="256.03" y="118.95" width="4.3" height="4.3"/><rect x="260.35" y="158.55" width="4.3" height="4.3"/><rect x="264.67" y="158.55" width="4.3" height="4.3"/><rect x="268.99" y="158.55" width="4.3" height="4.3"/><rect x="273.31" y="158.55" width="4.3" height="4.3"/><rect x="277.63" y="135.10" width="4.3" height="4.3"/><rect x="281.95" y="140.10" width="4.3" height="4.3"/><rect x="286.27" y="131.35" width="4.3" height="4.3"/><rect x="290.59" y="105.10" width="4.3" height="4.3"/><rect x="294.91" y="45.15" width="4.3" height="4.3"/><rect x="303.55" y="158.55" width="4.3" height="4.3"/></g>
<text x="280.2" y="18.9" text-anchor="end" style="font-size:9.2px">25 m</text>
<text x="280.2" y="28.3" text-anchor="end" style="font-size:9.2px">18 m</text>
<text x="280.2" y="36.5" text-anchor="end" style="font-size:9.2px">SILAM V<tspan dy="3" font-size="7.2">d,a</tspan></text>
<path d="M285 15.1H295" stroke="#999" stroke-width="0.6"/><circle cx="290" cy="15.1" r="1.8" fill="#000"/>
<path d="M285 25H295" stroke="#aaa" stroke-width="0.6"/><circle cx="290" cy="25" r="2.1" fill="none" stroke="#9a9a9a" stroke-width="0.6"/>
<path d="M285 34.4H295" stroke="#c39222" stroke-width="1"/><rect x="287.6" y="32" width="4.8" height="4.8" fill="none" stroke="#c39222" stroke-width="0.9"/>
</svg></body></html>
